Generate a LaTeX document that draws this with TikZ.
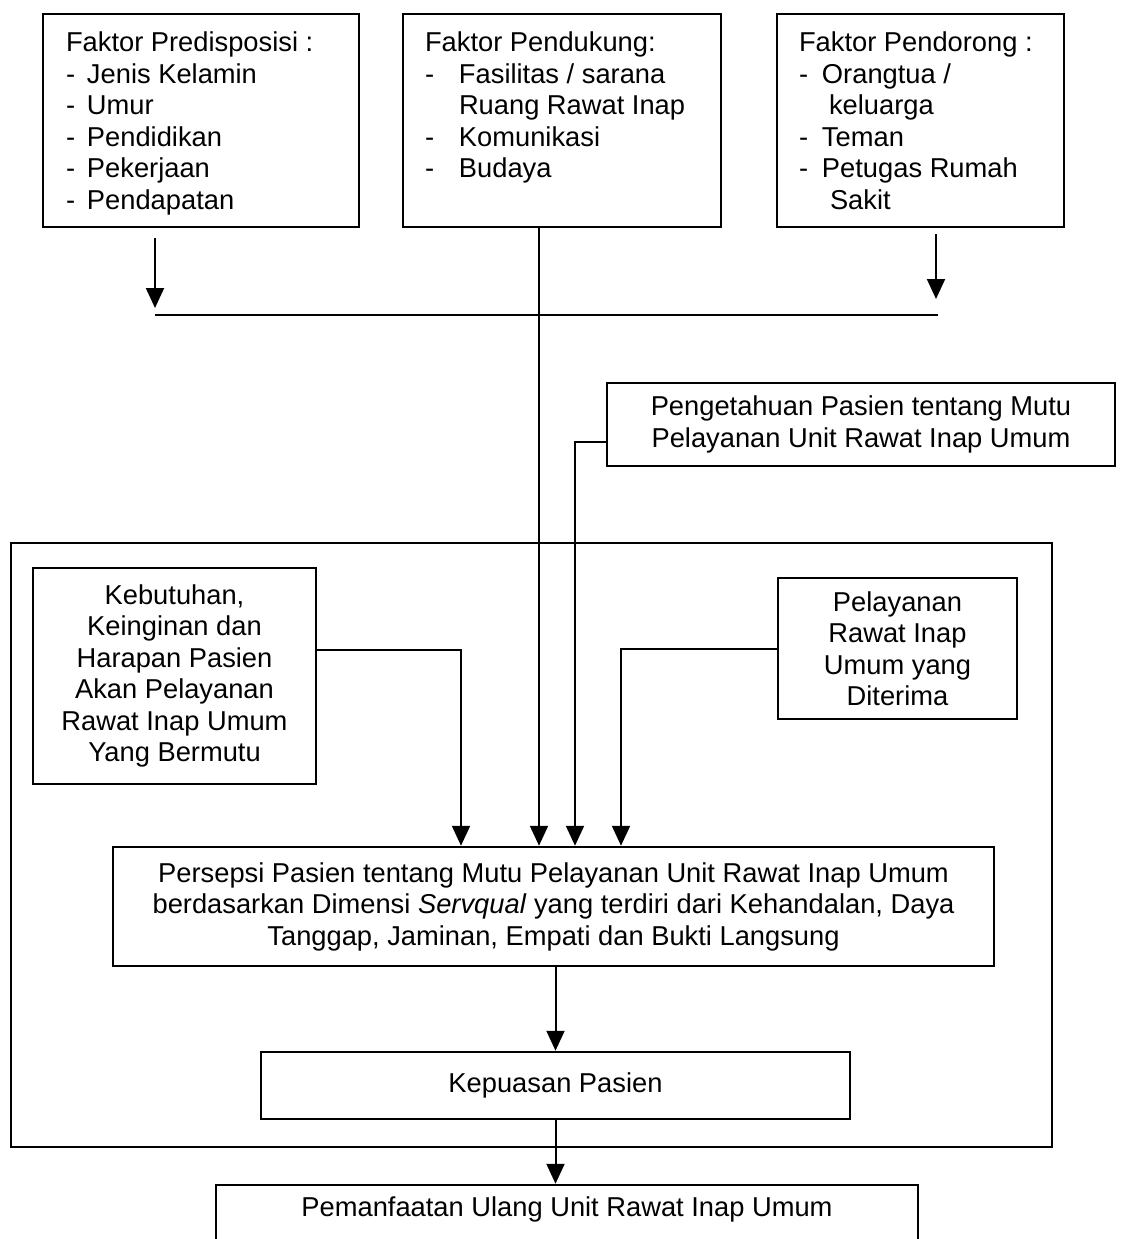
\documentclass[tikz,border=0pt]{standalone}
\usepackage{fontspec}
\setmainfont{Liberation Sans}
\usetikzlibrary{arrows.meta,calc}
\newcommand\dfont{\fontsize{27.3}{31.5}\selectfont}
\begin{document}
\begin{tikzpicture}[x=1pt,y=-1pt,
  box/.style={draw, line width=2.5pt, inner sep=0pt, align=center, font=\dfont},
  conn/.style={line width=2pt},
  arr/.style={line width=2pt, -{Triangle[length=20pt,width=18pt]}}]
\useasboundingbox[fill=white] (0,0) rectangle (1120,1239);

% top row
\node[box, minimum width=316pt, minimum height=213pt] (b1) at (201,120.5)
  {\parbox[c][213pt][t]{270pt}{\raggedright\vspace*{18pt}Faktor Predisposisi :\\
   \makebox[21pt][l]{-}Jenis Kelamin\\
   \makebox[21pt][l]{-}Umur\\
   \makebox[21pt][l]{-}Pendidikan\\
   \makebox[21pt][l]{-}Pekerjaan\\
   \makebox[21pt][l]{-}Pendapatan}};
\node[box, minimum width=318pt, minimum height=213pt] (b2) at (562,120.5)
  {\parbox[c][213pt][t]{274pt}{\raggedright\vspace*{18pt}Faktor Pendukung:\\
   \makebox[34pt][l]{-}Fasilitas / sarana\\
   \hspace*{34pt}Ruang Rawat Inap\\
   \makebox[34pt][l]{-}Komunikasi\\
   \makebox[34pt][l]{-}Budaya}};
\node[box, minimum width=287pt, minimum height=213pt] (b3) at (920.5,120.5)
  {\parbox[c][213pt][t]{243pt}{\raggedright\vspace*{18pt}Faktor Pendorong :\\
   \makebox[23pt][l]{-}Orangtua /\\
   \hspace*{30pt}keluarga\\
   \makebox[23pt][l]{-}Teman\\
   \makebox[23pt][l]{-}Petugas Rumah\\
   \hspace*{31pt}Sakit}};

% knowledge box
\node[box, minimum width=508pt, minimum height=83pt] (peng) at (861,424.5)
  {Pengetahuan Pasien tentang Mutu\\Pelayanan Unit Rawat Inap Umum};

% outer frame
\node[draw, line width=2.5pt, inner sep=0pt, minimum width=1041pt, minimum height=604pt] (frame) at (531.5,845) {};

\node[box, minimum width=283pt, minimum height=216pt] (keb) at (174.5,676)
  {Kebutuhan,\\Keinginan dan\\Harapan Pasien\\Akan Pelayanan\\Rawat Inap Umum\\Yang Bermutu};
\node[box, minimum width=239pt, minimum height=141pt] (pel) at (897.5,648.5)
  {Pelayanan\\Rawat Inap\\Umum yang\\Diterima};
\node[box, minimum width=881pt, minimum height=119pt] (pers) at (553.5,906.5)
  {Persepsi Pasien tentang Mutu Pelayanan Unit Rawat Inap Umum\\
   berdasarkan Dimensi \textit{Servqual} yang terdiri dari Kehandalan, Daya\\
   Tanggap, Jaminan, Empati dan Bukti Langsung};
\node[box, minimum width=589pt, minimum height=67pt] (kep) at (555.5,1085.5)
  {Kepuasan Pasien};
\node[box, minimum width=702pt, minimum height=75pt] (pem) at (567,1222.5)
  {\parbox[c][75pt][t]{650pt}{\centering\vspace*{12pt}Pemanfaatan Ulang Unit Rawat Inap Umum}};

% bus line joining predisposing and reinforcing factors
\coordinate (busL) at (155,315);
\coordinate (busR) at (938,315);
\coordinate (xr) at (936,315);
\draw[conn] (busL) -- (busR);
\draw[arr] ([yshift=-10pt]b1.south -| busL) -- ([yshift=7pt]busL);
\draw[arr] ([yshift=-6pt]b3.south -| xr) -- ([yshift=16pt]xr);

% enabling factor straight down
\coordinate (c2) at (539,227);
\draw[arr] (b2.south -| c2) -- (pers.north -| c2);

% knowledge
\coordinate (pk) at (575,442);
\draw[arr] (peng.west |- pk) -- (pk) -- (pk |- pers.north);

% needs
\coordinate (kb) at (461,650);
\draw[arr] (keb.east |- kb) -- (kb) -- (kb |- pers.north);

% received service
\coordinate (pl) at (621,649);
\draw[arr] (pel.west |- pl) -- (pl) -- (pl |- pers.north);

% lower chain
\draw[arr] (kep.north |- pers.south) -- (kep.north);
\draw[arr] (kep.south) -- (kep.south |- pem.north);
\end{tikzpicture}
\end{document}
